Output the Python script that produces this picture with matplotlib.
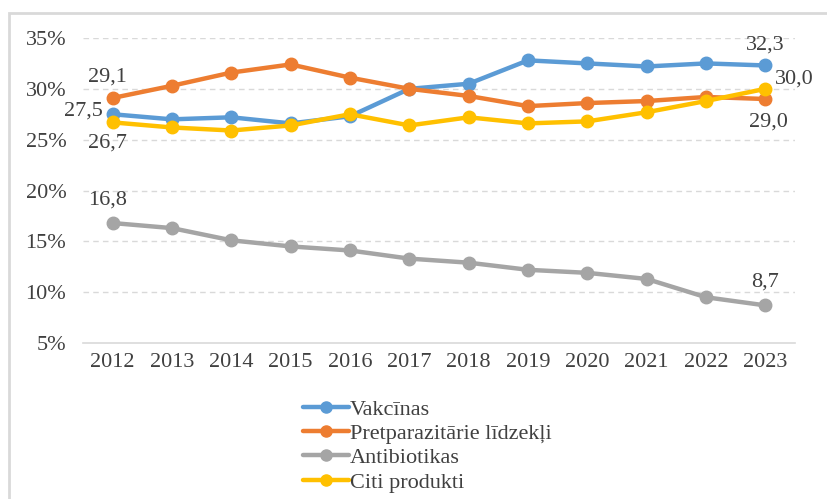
import matplotlib
matplotlib.use("Agg")
import matplotlib.pyplot as plt
from matplotlib.patches import Rectangle

years = ["2012", "2013", "2014", "2015", "2016", "2017", "2018", "2019", "2020", "2021", "2022", "2023"]
vakcinas = [27.5, 27.0, 27.2, 26.6, 27.3, 30.0, 30.5, 32.8, 32.5, 32.2, 32.5, 32.3]
pretparazitarie = [29.1, 30.3, 31.6, 32.4, 31.1, 30.0, 29.3, 28.3, 28.6, 28.8, 29.2, 29.0]
antibiotikas = [16.8, 16.3, 15.1, 14.5, 14.1, 13.3, 12.9, 12.2, 11.9, 11.3, 9.5, 8.7]
citi = [26.7, 26.2, 25.9, 26.4, 27.5, 26.4, 27.2, 26.6, 26.8, 27.7, 28.8, 30.0]
series_names = ["Vakcīnas", "Pretparazitārie līdzekļi", "Antibiotikas", "Citi produkti"]
yticks = [5, 10, 15, 20, 25, 30, 35]

colors = ["#5B9BD5", "#ED7D31", "#A5A5A5", "#FFC000"]
plt.rcParams['font.family'] = ['Liberation Serif', 'DejaVu Serif']

fig = plt.figure(figsize=(8.27, 4.99), dpi=100)
# outer frame
fig.patches.append(Rectangle((9/827, -0.1), 1.2, (499-13)/499 + 0.1, transform=fig.transFigure,
                             fill=False, edgecolor="#D9D9D9", linewidth=2.0))
ax = fig.add_axes([83/827, 1 - 343/499, (795-83)/827, (343-38)/499])

x = list(range(len(years)))
data = [vakcinas, pretparazitarie, antibiotikas, citi]
zorders = [3, 3, 3, 4]
lines = []
for vals, c, name, z in zip(data, colors, series_names, zorders):
    ln, = ax.plot(x, vals, color=c, linewidth=3.2, marker='o', markersize=9, label=name,
                  zorder=z, solid_capstyle='round')
    lines.append(ln)

fs = 16
tc = "#404040"
ax.set_xlim(-0.5, len(years) - 0.5)
ax.set_ylim(5, 35)
ax.set_yticks(yticks)
ax.set_yticklabels([f"{v}%" for v in yticks])
ax.set_xticks(x)
ax.set_xticklabels(years)
for s in ["top", "right", "left"]:
    ax.spines[s].set_visible(False)
ax.spines["bottom"].set_color("#D9D9D9")
ax.spines["bottom"].set_linewidth(1.2)
ax.tick_params(axis="both", length=0, labelsize=fs, colors=tc)
ax.tick_params(axis="y", pad=12)
ax.tick_params(axis="x", pad=7)
for v in yticks[1:]:
    ax.axhline(v, color="#D9D9D9", linestyle=(0, (4, 3)), linewidth=1.0, zorder=1)

def fmt(v):
    return f"{v:.1f}".replace(".", ",")

ax.annotate(fmt(pretparazitarie[0]), (0, pretparazitarie[0]), xytext=(-4, 8), textcoords="offset points",
            ha="center", va="bottom", fontsize=fs, color=tc)
ax.annotate(fmt(vakcinas[0]), (0, vakcinas[0]), xytext=(-7, 2), textcoords="offset points",
            ha="right", va="center", fontsize=fs, color=tc)
ax.annotate(fmt(citi[0]), (0, citi[0]), xytext=(-4, -8), textcoords="offset points",
            ha="center", va="top", fontsize=fs, color=tc)
ax.annotate(fmt(antibiotikas[0]), (0, antibiotikas[0]), xytext=(-4, 10), textcoords="offset points",
            ha="center", va="bottom", fontsize=fs, color=tc)
n = len(years) - 1
ax.annotate(fmt(vakcinas[n]), (n, vakcinas[n]), xytext=(0, 8), textcoords="offset points",
            ha="center", va="bottom", fontsize=fs, color=tc)
ax.annotate(fmt(citi[n]), (n, citi[n]), xytext=(7, 0), textcoords="offset points",
            ha="left", va="bottom", fontsize=fs, color=tc)
ax.annotate(fmt(pretparazitarie[n]), (n, pretparazitarie[n]), xytext=(2, -10), textcoords="offset points",
            ha="center", va="top", fontsize=fs, color=tc)
ax.annotate(fmt(antibiotikas[n]), (n, antibiotikas[n]), xytext=(0, 10), textcoords="offset points",
            ha="center", va="bottom", fontsize=fs, color=tc)

leg = fig.legend(handles=lines, loc="upper left", bbox_to_anchor=(303/827, 1 - 399/499),
                 frameon=False, fontsize=fs, handlelength=2.05, handletextpad=0.05,
                 labelspacing=0.17, borderaxespad=0, borderpad=0)
for t in leg.get_texts():
    t.set_color(tc)
for h in leg.legend_handles:
    h.set_markersize(8)

fig.savefig("out.png", dpi=100, facecolor="white")
